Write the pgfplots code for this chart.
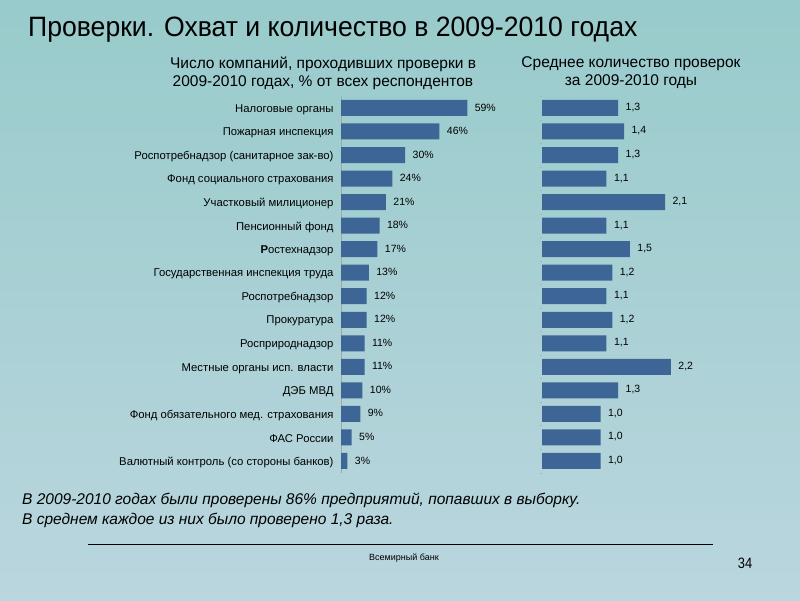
\documentclass[border=0pt]{standalone}
\usepackage{pgfplots}
\pgfplotsset{compat=1.18}
\usepackage{fontspec}
\setmainfont{Liberation Sans}
\newfontfamily\narrow{Liberation Sans}[FakeStretch=0.86]
\newfontfamily\titlefont{Liberation Sans}[FakeStretch=0.95]
\definecolor{bgtop}{RGB}{152,203,203}
\definecolor{bgbot}{RGB}{186,214,222}
\definecolor{barblue}{RGB}{61,101,150}

\pgfplotstableread{
idx share avg
0  59 1.3
1  46 1.4
2  30 1.3
3  24 1.1
4  21 2.1
5  18 1.1
6  17 1.5
7  13 1.2
8  12 1.1
9  12 1.2
10 11 1.1
11 11 2.2
12 10 1.3
13  9 1.0
14  5 1.0
15  3 1.0
}\checks

\begin{document}
\begin{tikzpicture}[x=1pt,y=1pt]
\shade[top color=bgtop, bottom color=bgbot] (0,0) rectangle (800,600);

% titles
\node[anchor=west, font=\titlefont\fontsize{28}{30}\selectfont, inner sep=0] at (28,570) {Проверки. Охват и количество в 2009-2010 годах};
\node[align=center, font=\fontsize{15.5}{18}\selectfont, inner sep=0] at (323,527) {Число компаний, проходивших проверки в\\2009-2010 годах, \% от всех респондентов};
\node[align=center, font=\fontsize{15.5}{18}\selectfont, inner sep=0] at (631,527) {Среднее количество проверок\\за 2009-2010 годы};

\pgfplotsset{
  every axis/.append style={
    scale only axis, anchor=south west,
    height=376.5pt, ymin=-0.5, ymax=15.5, y dir=reverse,
    xbar, bar width=16pt,
    axis x line=none, axis y line=left,
    /pgf/number format/assume math mode=true,
    nodes near coords style={font=\fontsize{10.5}{12}\selectfont, anchor=west, xshift=4pt, yshift=0.5pt, text=black},
  },
}

% left chart
\begin{axis}[
    at={(341pt,127.3pt)},
    width=128.4pt, xmin=0, xmax=60,
    y axis line style={-, draw=gray!70},
    ytick={0,...,15}, major tick length=0pt,
    yticklabel style={font=\fontsize{11.3}{13}\selectfont, xshift=-4pt, yshift=-1.5pt},
    yticklabels={Налоговые органы, Пожарная инспекция, Роспотребнадзор (санитарное зак-во), Фонд социального страхования, Участковый милиционер, Пенсионный фонд, {\textbf{Р}остехнадзор}, Государственная инспекция труда, Роспотребнадзор, Прокуратура, Росприроднадзор, Местные органы исп. власти, ДЭБ МВД, Фонд обязательного мед. страхования, ФАС России, Валютный контроль (со стороны банков)},
    nodes near coords={\pgfmathprintnumber{\pgfplotspointmeta}\%},
]
\addplot[fill=barblue, draw=none] table[x=share, y=idx] {\checks};
\end{axis}

% right chart
\begin{axis}[
    at={(542pt,127.3pt)},
    width=146.5pt, xmin=0, xmax=2.5,
    y axis line style={draw=none},
    ytick={-0.5,0.5,...,15.5}, yticklabels={},
    tick align=outside, major tick length=2.5pt,
    tick style={gray!60, line width=0.4pt},
    nodes near coords={\pgfmathprintnumber[fixed,fixed zerofill,precision=1,use comma]{\pgfplotspointmeta}},
]
\addplot[fill=barblue, draw=none] table[x=avg, y=idx] {\checks};
\end{axis}

% footer
\node[anchor=west, font=\itshape\fontsize{15.5}{17}\selectfont, inner sep=0] at (22,100) {В 2009-2010 годах были проверены 86\% предприятий, попавших в выборку.};
\node[anchor=west, font=\itshape\fontsize{15.5}{17}\selectfont, inner sep=0] at (22,80) {В среднем каждое из них было проверено 1,3 раза.};
\draw[black, line width=0.9pt] (88,56) -- (713,56);
\node[font=\fontsize{9}{10}\selectfont, inner sep=0] at (404,42) {Всемирный банк};
\node[font=\narrow\fontsize{15}{16}\selectfont, inner sep=0] at (745,37) {34};
\end{tikzpicture}
\end{document}
